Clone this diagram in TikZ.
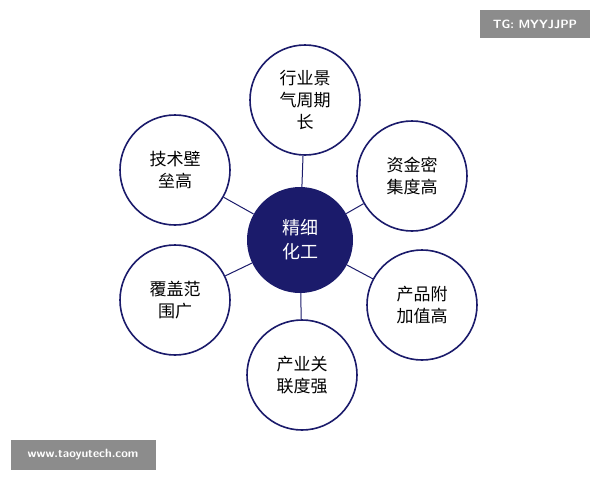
\documentclass[tikz,border=0pt]{standalone}
\usepackage{fontspec}
\usetikzlibrary{backgrounds}
\newfontfamily\cjk{Noto Sans CJK SC}
\begin{document}
\begin{tikzpicture}[x=1pt,y=-1pt,
  outer/.style={circle,draw=navy,line width=1.6pt,fill=white,minimum size=110pt,inner sep=0pt,align=center,font=\cjk\fontsize{17}{22}\selectfont},
  center/.style={circle,fill=navy,minimum size=106pt,inner sep=0pt,align=center,text=white,font=\cjk\fontsize{18}{24}\selectfont},
  link/.style={draw=navy,line width=1pt},
  tag/.style={fill=black!45,text=white,inner sep=0pt,font=\sffamily\bfseries\fontsize{12}{14}\selectfont}]
\definecolor{navy}{HTML}{1B1B6B}
\useasboundingbox (0,0) rectangle (600,480);
\node[center] (c) at (300,240) {精细\\化工};
\node[outer] (t) at (305,100) {行业景\\气周期\\长};
\node[outer] (ur) at (412,176) {资金密\\集度高};
\node[outer] (lr) at (422,305) {产品附\\加值高};
\node[outer] (b) at (302,375) {产业关\\联度强};
\node[outer] (ll) at (175,300) {覆盖范\\围广};
\node[outer] (ul) at (175,170) {技术壁\\垒高};
\begin{scope}[on background layer]
\fill[white] (0,0) rectangle (600,480);
\foreach \n in {t,ur,lr,b,ll,ul}{\draw[link] (c) -- (\n);}
\end{scope}
\node[tag,minimum width=110pt,minimum height=28pt] (tg) at (535,24) {TG: MYYJJPP};
\node[tag,minimum width=145pt,minimum height=30pt] (www) at (83,455) {www.taoyutech.com};
\end{tikzpicture}
\end{document}
